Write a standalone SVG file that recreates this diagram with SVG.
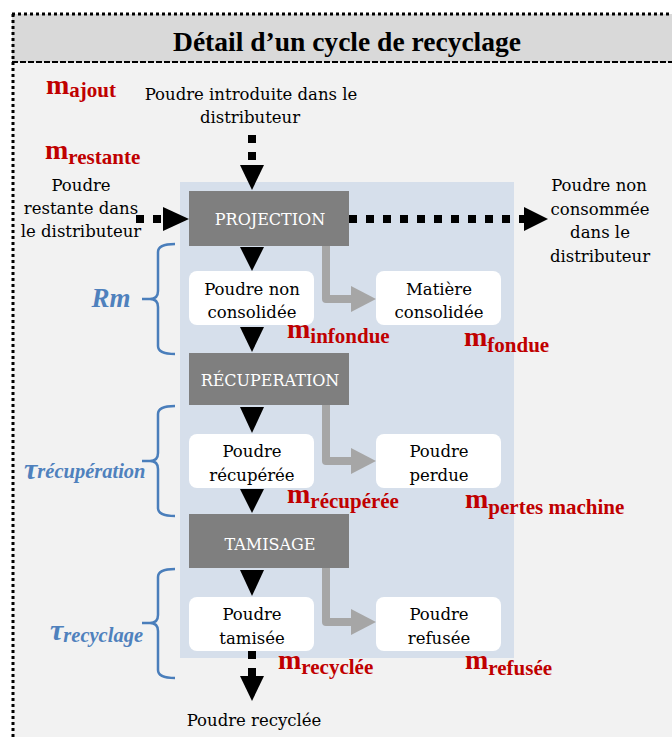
<svg xmlns="http://www.w3.org/2000/svg" width="672" height="737" viewBox="0 0 672 737">
<defs>
<style>
.t{font-family:"DejaVu Serif","Liberation Serif",serif;font-size:16.5px;fill:#000;text-anchor:middle}
.pt{font-family:"DejaVu Serif","Liberation Serif",serif;font-size:16px;fill:#fff;text-anchor:middle}
.m{font-family:"Liberation Serif","DejaVu Serif",serif;font-weight:bold;fill:#c00000}
.mb{font-size:28px}
.ms{font-size:21px}
.g{font-family:"Liberation Serif","DejaVu Serif",serif;font-weight:bold;font-style:italic;fill:#4f81bd}
.proc{fill:#7f7f7f}
.box{fill:#fff}
.dots{stroke:#000;stroke-width:8;stroke-dasharray:8 9;fill:none}
.grey{stroke:#a6a6a6;stroke-width:8;fill:none;stroke-linejoin:round}
.brace{stroke:#4a7ebb;stroke-width:2.5;fill:none}
</style>
</defs>
<rect x="0" y="0" width="672" height="737" fill="#fff"/>
<rect x="12" y="14" width="670" height="730" fill="#f2f2f2"/>
<rect x="12" y="14" width="670" height="48" fill="#d9d9d9"/>
<line x1="12" y1="14" x2="672" y2="14" stroke="#000" stroke-width="3" stroke-dasharray="3 3"/>
<line x1="12" y1="62" x2="672" y2="62" stroke="#000" stroke-width="2" stroke-dasharray="6 2"/>
<line x1="13" y1="14" x2="13" y2="737" stroke="#000" stroke-width="3" stroke-dasharray="3 3"/>
<text x="347" y="51" style="font-family:'Liberation Serif','DejaVu Serif',serif;font-size:27px;font-weight:bold;text-anchor:middle" textLength="348" lengthAdjust="spacingAndGlyphs">Détail  d’un cycle de recyclage</text>

<rect x="180" y="182" width="334" height="476" fill="#d6dfeb"/>

<g id="connectors">
<line class="dots" x1="252" y1="135" x2="252" y2="165"/>
<polygon points="240,165 264,165 252,190"/>
<line class="dots" x1="136" y1="219" x2="163" y2="219"/>
<polygon points="163,207 163,231 189,219"/>
<line class="dots" x1="349" y1="219" x2="524" y2="219"/>
<polygon points="524,207 524,231 548,219"/>
<polygon points="240,247 264,247 252,271"/>
<polygon points="240,327 264,327 252,352"/>
<polygon points="240,407 264,407 252,433"/>
<polygon points="240,489 264,489 252,513"/>
<polygon points="240,570 264,570 252,596"/>
<line class="dots" x1="252" y1="651" x2="252" y2="676"/>
<polygon points="240,676 264,676 252,701"/>
<polyline class="grey" points="326,246 326,299 352,299"/>
<polygon points="351,286 351,312 376,299" fill="#a6a6a6"/>
<polyline class="grey" points="326,405 326,461 352,461"/>
<polygon points="351,448 351,474 376,461" fill="#a6a6a6"/>
<polyline class="grey" points="326,568 326,622 352,622"/>
<polygon points="351,609 351,635 376,622" fill="#a6a6a6"/>
</g>

<g id="projection"><rect class="proc" x="189" y="191" width="160" height="55"/><text class="pt" x="270" y="225">PROJECTION</text></g>
<g id="recuperation"><rect class="proc" x="189" y="353" width="160" height="52"/><text class="pt" x="270" y="386">RÉCUPERATION</text></g>
<g id="tamisage"><rect class="proc" x="189" y="514" width="160" height="54"/><text class="pt" x="270" y="550">TAMISAGE</text></g>

<g id="poudre-non-consolidee"><rect class="box" x="189" y="271" width="125" height="54" rx="8"/><text class="t" x="252" y="295">Poudre non</text><text class="t" x="252" y="318">consolidée</text></g>
<g id="matiere-consolidee"><rect class="box" x="376" y="271" width="125" height="54" rx="8"/><text class="t" x="439" y="295">Matière</text><text class="t" x="439" y="318">consolidée</text></g>
<g id="poudre-recuperee"><rect class="box" x="189" y="434" width="125" height="54" rx="8"/><text class="t" x="252" y="457">Poudre</text><text class="t" x="252" y="481">récupérée</text></g>
<g id="poudre-perdue"><rect class="box" x="376" y="434" width="125" height="54" rx="8"/><text class="t" x="439" y="457">Poudre</text><text class="t" x="439" y="481">perdue</text></g>
<g id="poudre-tamisee"><rect class="box" x="189" y="597" width="125" height="54" rx="8"/><text class="t" x="252" y="620">Poudre</text><text class="t" x="252" y="644">tamisée</text></g>
<g id="poudre-refusee"><rect class="box" x="376" y="597" width="125" height="54" rx="8"/><text class="t" x="439" y="620">Poudre</text><text class="t" x="439" y="644">refusée</text></g>

<g id="texts">
<text class="t" x="251" y="100">Poudre  introduite dans le</text>
<text class="t" x="250" y="123">distributeur</text>
<text class="t" x="81" y="191">Poudre</text>
<text class="t" x="81" y="214">restante  dans</text>
<text class="t" x="81" y="237">le distributeur</text>
<text class="t" x="599" y="191">Poudre  non</text>
<text class="t" x="600" y="215">consommée</text>
<text class="t" x="600" y="238">dans le</text>
<text class="t" x="600" y="262">distributeur</text>
<text class="t" x="254" y="726">Poudre recyclée</text>
</g>

<g id="masses">
<text class="m" x="46" y="94"><tspan class="mb">m</tspan><tspan class="ms" dy="3">ajout</tspan></text>
<text class="m" x="45" y="159"><tspan class="mb">m</tspan><tspan class="ms" dy="5">restante</tspan></text>
<text class="m" x="287" y="338"><tspan class="mb">m</tspan><tspan class="ms" dy="5">infondue</tspan></text>
<text class="m" x="464" y="346"><tspan class="mb">m</tspan><tspan class="ms" dy="6">fondue</tspan></text>
<text class="m" x="287" y="503"><tspan class="mb">m</tspan><tspan class="ms" dy="5">récupérée</tspan></text>
<text class="m" x="465" y="508"><tspan class="mb">m</tspan><tspan class="ms" dy="6">pertes machine</tspan></text>
<text class="m" x="278" y="669"><tspan class="mb">m</tspan><tspan class="ms" dy="5">recyclée</tspan></text>
<text class="m" x="465" y="669"><tspan class="mb">m</tspan><tspan class="ms" dy="6">refusée</tspan></text>
</g>

<g id="braces">
<path class="brace" d="M175,244 Q158,244 158,252 L158,291 Q158,299 150,299 L142,299 M150,299 Q158,299 158,307 L158,346 Q158,354 175,354"/>
<text class="g" x="111" y="307" style="font-size:27px;text-anchor:middle">Rm</text>
<path class="brace" d="M175,406 Q158,406 158,414 L158,453 Q158,461 150,461 L142,461 M150,461 Q158,461 158,469 L158,508 Q158,516 175,516"/>
<text class="g" x="24" y="479"><tspan style="font-size:30px">τ</tspan><tspan style="font-size:20.5px" dy="-1">récupération</tspan></text>
<path class="brace" d="M175,569 Q158,569 158,577 L158,615 Q158,623 150,623 L142,623 M150,623 Q158,623 158,631 L158,670 Q158,678 175,678"/>
<text class="g" x="50" y="640"><tspan style="font-size:30px">τ</tspan><tspan style="font-size:20.5px" dy="2">recyclage</tspan></text>
</g>
</svg>
